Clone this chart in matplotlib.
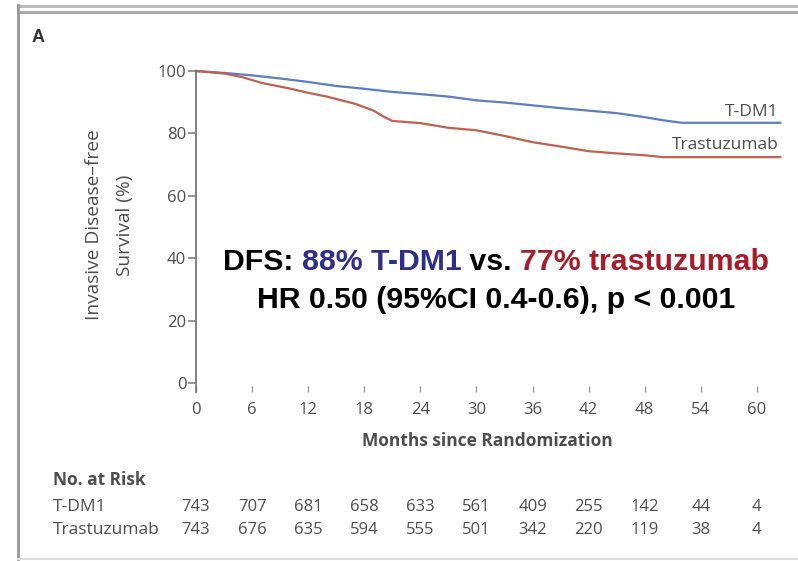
import numpy as np
import matplotlib.pyplot as plt
from matplotlib import transforms
from matplotlib.lines import Line2D

# Kaplan-Meier curves (months, % event-free)
tdm1_months = [0, 3, 6, 9, 12, 15, 18, 21, 24, 27, 30, 33, 36, 39, 42, 45, 48, 50, 52, 62.5]
tdm1_surv = [100, 99.4, 98.6, 97.6, 96.5, 95.2, 94.3, 93.3, 92.6, 91.8, 90.6, 89.9,
             89.0, 88.1, 87.3, 86.5, 85.2, 84.2, 83.4, 83.4]
tras_months = [0, 3, 5, 7, 10, 12, 14, 17, 19, 20, 21, 24, 27, 30, 33, 36, 39, 42,
               45, 48, 50, 62.5]
tras_surv = [100, 99.2, 98.0, 96.2, 94.4, 93.0, 91.8, 89.5, 87.3, 85.5, 84.0, 83.3,
             81.8, 81.0, 79.2, 77.2, 75.8, 74.3, 73.6, 73.0, 72.4, 72.4]

x_ticks = [0, 6, 12, 18, 24, 30, 36, 42, 48, 54, 60]
y_ticks = [0, 20, 40, 60, 80, 100]
risk_tdm1 = [743, 707, 681, 658, 633, 561, 409, 255, 142, 44, 4]
risk_tras = [743, 676, 635, 594, 555, 501, 342, 220, 119, 38, 4]

GRAY = '#4d4d4d'
BLUE_LINE = '#5b7ec2'
RED_LINE = '#c0604f'
FONT = 'Open Sans'
FS = 12.5   # labels
FN = 12     # numbers

DPI = 100
fig = plt.figure(figsize=(798/DPI, 561/DPI), dpi=DPI)
ax = fig.add_axes([0.2456, 0.3005, 0.738, 0.5785])

ax.plot(tdm1_months, tdm1_surv, color=BLUE_LINE, lw=1.6, clip_on=False)
ax.plot(tras_months, tras_surv, color=RED_LINE, lw=1.6, clip_on=False)

ax.set_xlim(0, 63)
ax.set_ylim(-3, 101)
for s in ['top', 'right', 'bottom']:
    ax.spines[s].set_visible(False)
ax.spines['left'].set_bounds(-3, 100)
ax.spines['left'].set_color('#777777')
ax.spines['left'].set_linewidth(1.3)

ax.set_xticks(x_ticks)
ax.set_yticks(y_ticks)
ax.tick_params(axis='y', direction='out', length=6, width=1.1, color='#777777',
               labelsize=FN, labelcolor=GRAY, pad=1)
ax.tick_params(axis='x', direction='in', length=4, width=1.0, color='#999999',
               labelsize=FN, labelcolor=GRAY, pad=7)
for lab in ax.get_xticklabels() + ax.get_yticklabels():
    lab.set_fontfamily(FONT)

# curve labels
ax.text(62.3, 87.0, 'T-DM1', ha='right', va='center', fontsize=FS,
        color=GRAY, family=FONT)
ax.text(62.3, 76.3, 'Trastuzumab', ha='right', va='center', fontsize=FS,
        color=GRAY, family=FONT)

# axis labels
fig.text(487/798, 1 - 441/561, 'Months since Randomization', ha='center', va='center',
         fontsize=12.5, fontweight='bold', color=GRAY, family=FONT)
fig.text(94/798, 1 - 225/561, 'Invasive Disease\u2013free', rotation=90, ha='center',
         va='center', fontsize=13.8, color=GRAY, family=FONT)
fig.text(125/798, 1 - 225/561, 'Survival (%)', rotation=90, ha='center',
         va='center', fontsize=13.8, color=GRAY, family=FONT)

# panel letter
fig.text(38/798, 1 - 37/561, 'A', ha='center', va='center', fontsize=13,
         fontweight='bold', color='#333333', family='Liberation Sans')

# DFS annotation (multi-colour line)
big = dict(fontsize=21.8, fontweight='bold', family='Liberation Sans', va='center')
parts = [('DFS: ', 'black'), ('88% T-DM1', '#2d2d8c'), (' vs. ', 'black'),
         ('77% trastuzumab', '#a81c2a')]
fig.canvas.draw()
renderer = fig.canvas.get_renderer()
widths = []
for txt, col in parts:
    t = fig.text(0, 0, txt, **big)
    widths.append(t.get_window_extent(renderer).width)
    t.remove()
x0 = 496 - sum(widths) / 2
for (txt, col), w in zip(parts, widths):
    fig.text(x0/798, 1 - 262/561, txt, color=col, ha='left', **big)
    x0 += w
fig.text(496/798, 1 - 300/561, 'HR 0.50 (95%CI 0.4-0.6), p < 0.001', color='black',
         ha='center', **big)

# number at risk table
trans = transforms.blended_transform_factory(ax.transData, fig.transFigure)
fig.text(53/798, 1 - 480/561, 'No. at Risk', ha='left', va='center', fontsize=FS,
         fontweight='bold', color=GRAY, family=FONT)
fig.text(53/798, 1 - 507/561, 'T-DM1', ha='left', va='center', fontsize=FS,
         color=GRAY, family=FONT)
fig.text(53/798, 1 - 530/561, 'Trastuzumab', ha='left', va='center', fontsize=FS,
         color=GRAY, family=FONT)
for m, a, b in zip(x_ticks, risk_tdm1, risk_tras):
    ax.text(m, 1 - 507/561, str(a), transform=trans, ha='center', va='center',
            fontsize=FN, color=GRAY, family=FONT)
    ax.text(m, 1 - 530/561, str(b), transform=trans, ha='center', va='center',
            fontsize=FN, color=GRAY, family=FONT)

# panel frame
fig.add_artist(Line2D([18/798, 1], [1 - 6/561] * 2, transform=fig.transFigure,
                      color='#bbbbbb', lw=2.2))
fig.add_artist(Line2D([18/798, 1], [1 - 12/561] * 2, transform=fig.transFigure,
                      color='#aaaaaa', lw=2.2))
fig.add_artist(Line2D([18/798] * 2, [1 - 5/561, 1 - 559/561], transform=fig.transFigure,
                      color='#999999', lw=2.0))
fig.add_artist(Line2D([18/798, 1], [1 - 559/561] * 2, transform=fig.transFigure,
                      color='#dddddd', lw=1.5))

fig.savefig('out.png', dpi=DPI)
